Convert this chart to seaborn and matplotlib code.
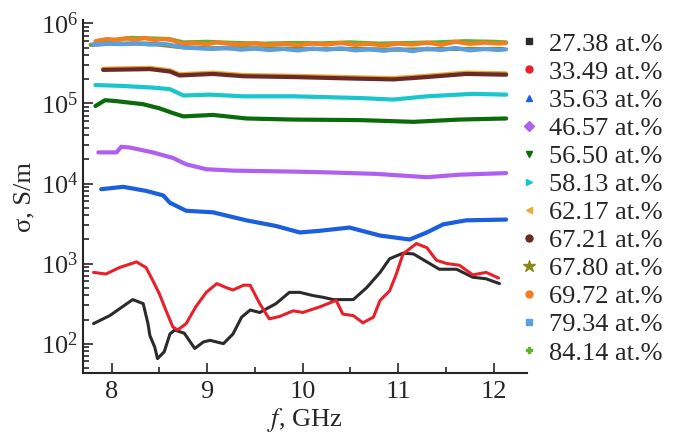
import matplotlib
matplotlib.use('Agg')
import matplotlib.pyplot as plt
from matplotlib.lines import Line2D
import seaborn as sns
import pandas as pd

# conductivity vs frequency
f_2738 = [7.81, 7.98, 8.22, 8.33, 8.38, 8.40, 8.45, 8.48, 8.55, 8.61, 8.66, 8.76, 8.87,
          8.96, 9.03, 9.17, 9.27, 9.36, 9.45, 9.55, 9.72, 9.86, 9.97, 10.11, 10.21,
          10.32, 10.53, 10.67, 10.81, 10.91, 11.05, 11.16, 11.30, 11.43, 11.61, 11.78,
          11.92, 12.06]
s_2738 = [178, 224, 355, 316, 178, 126, 91, 65, 79, 132, 148, 135, 87,
          105, 110, 100, 132, 214, 263, 245, 316, 437, 437, 398, 380,
          355, 355, 501, 776, 1150, 1350, 1320, 1050, 850, 850, 676,
          646, 562]

f_3349 = [7.81, 7.94, 8.08, 8.26, 8.36, 8.43, 8.50, 8.57, 8.64, 8.69, 8.78, 8.88, 8.99,
          9.10, 9.20, 9.27, 9.38, 9.45, 9.55, 9.65, 9.76, 9.90, 10.00, 10.18, 10.35,
          10.42, 10.53, 10.63, 10.74, 10.81, 10.91, 10.98, 11.05, 11.19, 11.30, 11.40,
          11.51, 11.64, 11.78, 11.92, 12.05]
s_3349 = [776, 741, 891, 1050, 891, 617, 417, 257, 162, 148, 178, 288, 437,
          562, 501, 468, 537, 537, 316, 204, 219, 257, 245, 288, 347,
          234, 224, 182, 214, 347, 457, 741, 1320, 1780, 1580, 1100,
          1000, 955, 724, 776, 661]

f_3563 = [7.89, 8.12, 8.36, 8.54, 8.61, 8.78, 9.06, 9.41, 9.72, 9.97, 10.18, 10.49,
          10.81, 11.12, 11.30, 11.47, 11.71, 12.13]
s_3563 = [8500, 9100, 8100, 7100, 5750, 4570, 4370, 3470, 2950, 2450, 2570, 2820,
          2240, 2000, 2450, 3090, 3470, 3550]

f_4657 = [7.86, 8.05, 8.10, 8.19, 8.43, 8.64, 8.78, 8.99, 9.27, 9.90, 10.25, 10.77,
          11.30, 11.64, 12.13]
s_4657 = [24500, 24500, 28800, 28200, 24500, 20900, 17400, 15100, 14500, 14100,
          13800, 13200, 12000, 12900, 13500]

f_5650 = [7.83, 7.93, 8.05, 8.33, 8.50, 8.64, 8.75, 9.06, 9.41, 9.90, 10.60, 11.16,
          11.64, 12.13]
s_5650 = [93000, 110000, 107000, 98000, 87000, 76000, 69000, 72000, 65000, 63000,
          62000, 59000, 63000, 65000]

f_5813 = [7.83, 8.10, 8.43, 8.61, 8.75, 9.03, 9.38, 9.90, 10.60, 10.95, 11.30, 11.78,
          12.13]
s_5813 = [170000, 166000, 158000, 151000, 126000, 129000, 123000, 123000, 117000,
          112000, 123000, 132000, 129000]

f_6217 = [7.91, 8.40, 8.61, 8.71, 9.06, 9.38, 9.90, 10.60, 10.95, 11.30, 11.71, 12.13]
s_6217 = [272000, 279000, 260000, 232000, 243000, 227000, 222000, 212000, 208000,
          222000, 243000, 238000]

f_6721 = [7.91, 8.40, 8.61, 8.71, 9.06, 9.38, 9.90, 10.60, 10.95, 11.30, 11.71, 12.13]
s_6721 = [263000, 269000, 251000, 224000, 234000, 219000, 214000, 204000, 200000,
          214000, 234000, 229000]

f_6780 = [7.78, 8.00, 8.40, 8.70, 9.00, 9.50, 10.00, 10.50, 11.00, 11.50, 12.10]
s_6780 = [540000, 560000, 560000, 510000, 490000, 490000, 480000, 480000, 470000,
          480000, 480000]

f_6972 = [7.83, 7.95, 8.05, 8.15, 8.25, 8.35, 8.45, 8.55, 8.65, 8.72, 8.85, 9.00,
          9.10, 9.20, 9.35, 9.50, 9.65, 9.80, 9.95, 10.10, 10.25, 10.40, 10.55, 10.70,
          10.85, 11.00, 11.15, 11.30, 11.45, 11.60, 11.75, 11.90, 12.05, 12.13]
s_6972 = [600000, 640000, 620000, 650000, 630000, 660000, 620000, 640000, 610000,
          560000, 570000, 550000, 580000, 560000, 545000, 565000, 540000, 555000,
          535000, 560000, 545000, 570000, 540000, 555000, 530000, 560000, 545000,
          575000, 540000, 590000, 555000, 575000, 560000, 570000]

f_7934 = [7.80, 7.95, 8.10, 8.25, 8.40, 8.55, 8.65, 8.75, 8.90, 9.05, 9.20, 9.35,
          9.50, 9.65, 9.80, 9.95, 10.10, 10.25, 10.40, 10.55, 10.70, 10.85, 11.00,
          11.15, 11.30, 11.45, 11.60, 11.75, 11.90, 12.05, 12.13]
s_7934 = [545000, 560000, 550000, 565000, 545000, 555000, 530000, 500000, 490000,
          480000, 495000, 470000, 485000, 465000, 480000, 460000, 485000, 470000,
          490000, 460000, 475000, 455000, 480000, 450000, 485000, 465000, 495000,
          460000, 480000, 465000, 475000]

f_8414 = [7.85, 8.00, 8.20, 8.40, 8.60, 8.75, 9.00, 9.30, 9.60, 9.90, 10.20, 10.50,
          10.80, 11.10, 11.40, 11.70, 12.00, 12.13]
s_8414 = [580000, 620000, 660000, 650000, 640000, 580000, 590000, 570000, 560000,
          570000, 565000, 580000, 560000, 570000, 580000, 600000, 590000, 580000]

labels = ['27.38 at.%', '33.49 at.%', '35.63 at.%', '46.57 at.%', '56.50 at.%',
          '58.13 at.%', '62.17 at.%', '67.21 at.%', '67.80 at.%', '69.72 at.%',
          '79.34 at.%', '84.14 at.%']
freqs = [f_2738, f_3349, f_3563, f_4657, f_5650, f_5813, f_6217, f_6721, f_6780,
         f_6972, f_7934, f_8414]
sigmas = [s_2738, s_3349, s_3563, s_4657, s_5650, s_5813, s_6217, s_6721, s_6780,
          s_6972, s_7934, s_8414]
colors = ['#2b2b2b', '#e8202a', '#1a5fe0', '#b060f0', '#0b6b0b', '#19c6cc',
          '#f0a830', '#6a2a26', '#8a8a12', '#f57c1f', '#5b9fe0', '#5ab52a']
markers = ['s', 'o', '^', 'D', 'v', '>', '<', 'o', '*', 'o', 's', 'P']

df = pd.concat([pd.DataFrame({'f': fs, 'sigma': ss, 'label': lab})
                for fs, ss, lab in zip(freqs, sigmas, labels)], ignore_index=True)

sns.set_style('ticks')
plt.rcParams['font.family'] = 'serif'
plt.rcParams['font.serif'] = ['Liberation Serif', 'DejaVu Serif']
plt.rcParams['mathtext.fontset'] = 'stix'

fig = plt.figure(figsize=(6.75, 4.34), dpi=100)
ax = fig.add_axes([0.123, 0.1406, 0.658, 0.813])

# draw order so the top group overlaps like in the reference
order = [0, 1, 2, 3, 4, 5, 6, 7, 11, 8, 9, 10]
widths = {0: 2.2, 1: 2.2}
for i in order:
    sns.lineplot(data=df[df['label'] == labels[i]], x='f', y='sigma', color=colors[i],
                 estimator=None, sort=False, linewidth=widths.get(i, 3.0), ax=ax,
                 legend=False)

ax.set_yscale('log')
ax.set_xlim(7.70, 12.35)
ax.set_ylim(43, 1.1e6)
ax.set_xticks([8, 9, 10, 11, 12])
ax.set_xticks([8.5, 9.5, 10.5, 11.5], minor=True)
ax.tick_params(which='both', direction='in', labelsize=19, width=1.2)
ax.tick_params(which='major', length=7)
ax.tick_params(which='minor', length=4)
ax.tick_params(axis='x', pad=6)
sns.despine(ax=ax)
for sp in ax.spines.values():
    sp.set_linewidth(1.5)

ax.set_xlabel('$f$, GHz', fontsize=19, labelpad=2)
ax.set_ylabel('σ, S/m', fontsize=19, labelpad=4)

handles = [Line2D([], [], linestyle='none', marker=m, color=c,
                  markersize=9 if m == '*' else 5)
           for m, c in zip(markers, colors)]
fig.legend(handles, labels, loc='upper left', bbox_to_anchor=(0.772, 0.926),
           frameon=False, fontsize=19, handlelength=0.6, handletextpad=0.45,
           labelspacing=0.175, borderpad=0, borderaxespad=0)

plt.savefig('out.png', dpi=100)
